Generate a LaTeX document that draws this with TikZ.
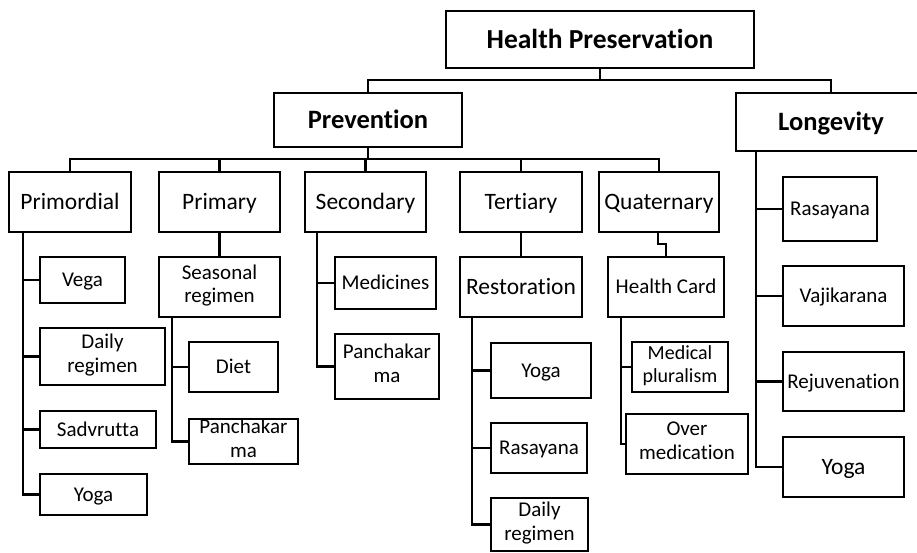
\documentclass[tikz,border=0pt]{standalone}
\usepackage{fontspec}
\setmainfont{Carlito}[Ligatures=NoCommon]
\begin{document}
\begin{tikzpicture}[x=1pt,y=-1pt,
  box/.style={draw, line width=2.7pt, inner sep=0pt, align=center},
  lnk/.style={line width=2.8pt, line cap=rect},
  small/.style={font=\fontsize{21}{23.5}\selectfont,
    execute at begin node={\rule{0pt}{19.6pt}},
    execute at end node={\rule[-6.3pt]{0pt}{6.3pt}}},
  smaller/.style={font=\fontsize{20}{23}\selectfont,
    execute at begin node={\rule{0pt}{18.7pt}},
    execute at end node={\rule[-6pt]{0pt}{6pt}}},
  medium/.style={font=\fontsize{23.5}{25.5}\selectfont,
    execute at begin node={\rule{0pt}{22pt}},
    execute at end node={\rule[-7pt]{0pt}{7pt}}},
  big/.style={font=\fontsize{26.5}{28}\selectfont\bfseries,
    execute at begin node={\rule{0pt}{24.8pt}},
    execute at end node={\rule[-8pt]{0pt}{8pt}}},
  huge/.style={font=\fontsize{27.5}{29}\selectfont\bfseries,
    execute at begin node={\rule{0pt}{25.7pt}},
    execute at end node={\rule[-8.3pt]{0pt}{8.3pt}}}]
\useasboundingbox (0,0) rectangle (917,552);
\newcommand\mybox[7]{\node[box,#6,minimum width={#4-#2},minimum height={#5-#3}] (#1) at ({(#2+#4)/2},{(#3+#5)/2}) {#7};}
% top
\mybox{hp}{446}{11}{754}{68}{huge}{Health Preservation}
\mybox{prev}{274}{93}{462}{147}{big}{Prevention}
\mybox{long}{736}{93}{926}{151}{big}{Longevity}
% second level
\mybox{primordial}{9}{172}{131}{232}{medium}{Primordial}
\mybox{primary}{159}{172}{280}{232}{medium}{Primary}
\mybox{secondary}{305}{172}{426}{232}{medium}{Secondary}
\mybox{tertiary}{460}{172}{582}{232}{medium}{Tertiary}
\mybox{quaternary}{599}{172}{719}{232}{medium}{Quaternary}
% primordial children
\mybox{vega}{40}{257}{125}{303}{small}{Vega}
\mybox{dailyA}{40}{328}{165}{385}{small}{Daily\\regimen}
\mybox{sadvrutta}{40}{411}{156}{448}{small}{Sadvrutta}
\mybox{yogaA}{40}{474}{147}{515}{small}{Yoga}
% primary children
\mybox{seasonal}{159}{257}{280}{317}{small}{Seasonal\\regimen}
\mybox{diet}{189}{342}{278}{392}{small}{Diet}
\mybox{panchaA}{189}{419}{298}{464}{small}{Panchakar\\ma}
% secondary children
\mybox{medicines}{335}{257}{436}{309}{small}{Medicines}
\mybox{panchaB}{335}{334}{439}{399}{small}{Panchakar\\ma}
% tertiary children
\mybox{restoration}{460}{257}{582}{317}{medium}{Restoration}
\mybox{yogaB}{491}{343}{591}{398}{small}{Yoga}
\mybox{rasayanaB}{491}{423}{587}{473}{small}{Rasayana}
\mybox{dailyB}{491}{498}{588}{551}{small}{Daily\\regimen}
% quaternary children
\mybox{healthcard}{608}{257}{724}{317}{small}{Health Card}
\mybox{medplur}{632}{342}{728}{392}{smaller}{Medical\\pluralism}
\mybox{overmed}{626}{414}{748}{474}{small}{Over\\medication}
% longevity children
\mybox{rasayanaC}{783}{177}{877}{241}{small}{Rasayana}
\mybox{vajikarana}{783}{266}{904}{326}{small}{Vajikarana}
\mybox{rejuv}{783}{352}{904}{411}{small}{Rejuvenation}
\mybox{yogaC}{783}{437}{904}{497}{medium}{Yoga}
% junction coordinates
\coordinate (j0) at (600,80);
\coordinate (j1) at (368,159);
\coordinate (tA) at (23,232);
\coordinate (tB) at (172,317);
\coordinate (tC) at (317,232);
\coordinate (tD) at (472,317);
\coordinate (tE) at (621,317);
\coordinate (tF) at (756,151);
\coordinate (q1) at (658,244);
% connectors top
\draw[lnk] (hp.south) -- (j0);
\draw[lnk] (prev.north) -- (prev.north |- j0) -- (long.north |- j0) -- (long.north);
\draw[lnk] (prev.south) -- (j1);
\draw[lnk] (primordial.north) -- (primordial.north |- j1) -- (quaternary.north |- j1) -- (quaternary.north);
\draw[lnk] (primary.north) -- (primary.north |- j1);
\draw[lnk] (secondary.north) -- (secondary.north |- j1);
\draw[lnk] (tertiary.north) -- (tertiary.north |- j1);
% primordial
\draw[lnk] (tA) |- (yogaA.west);
\draw[lnk] (tA |- vega.west) -- (vega.west);
\draw[lnk] (tA |- dailyA.west) -- (dailyA.west);
\draw[lnk] (tA |- sadvrutta.west) -- (sadvrutta.west);
% primary
\draw[lnk] (primary.south) -- (seasonal.north);
\draw[lnk] (tB) |- (panchaA.west);
\draw[lnk] (tB |- diet.west) -- (diet.west);
% secondary
\draw[lnk] (tC) |- (panchaB.west);
\draw[lnk] (tC |- medicines.west) -- (medicines.west);
% tertiary
\draw[lnk] (tertiary.south) -- (restoration.north);
\draw[lnk] (tD) |- (dailyB.west);
\draw[lnk] (tD |- yogaB.west) -- (yogaB.west);
\draw[lnk] (tD |- rasayanaB.west) -- (rasayanaB.west);
% quaternary
\draw[lnk] (quaternary.south -| q1) -- (q1) -| (healthcard.north);
\draw[lnk] (tE) |- (overmed.west);
\draw[lnk] (tE |- medplur.west) -- (medplur.west);
% longevity
\draw[lnk] (tF) |- (yogaC.west);
\draw[lnk] (tF |- rasayanaC.west) -- (rasayanaC.west);
\draw[lnk] (tF |- vajikarana.west) -- (vajikarana.west);
\draw[lnk] (tF |- rejuv.west) -- (rejuv.west);
\end{tikzpicture}
\end{document}
